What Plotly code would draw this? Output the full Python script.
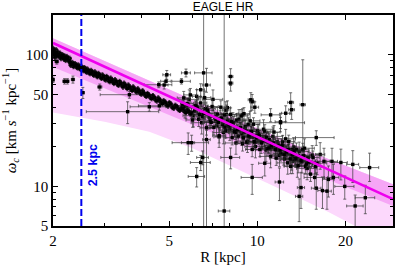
import math
import plotly.graph_objects as go

# ---------------- data ----------------
# dense inner ridge (R in kpc, omega_c in km/s/kpc)
R_ridge = [2.00,2.01,2.02,2.03,2.05,2.06,2.08,2.10,2.11,2.13,2.15,2.17,2.19,2.21,2.23,2.25,2.28,2.30,2.33,2.35,
           2.38,2.41,2.44,2.47,2.50,2.53,2.56,2.59,2.62,2.66,2.70,2.74,2.78,2.82,2.86,2.90,2.95,3.00,3.05,3.10,
           3.15,3.20,3.26,3.32,3.38,3.44,3.50,3.56,3.62,3.69,3.76,3.83,3.90,3.97,4.05,4.13,4.21,4.30,4.39,4.48,
           4.58,4.68,4.78,4.89,5.00,5.12,5.24,5.37,5.50,5.63,5.76,5.90]
W_ridge = [112,100,106,96,109,101,104,97,103,94,100,96,98,91,97,92,94,
           83.6,87.4,81.7,85.5,80.8,83.6,78.9,81.7,77,79.8,75,77.9,73.2,76,71.3,74.1,69.4,72.2,68.4,70.3,
           65.6,68.4,63.7,66.5,62.7,64.6,59.9,62.7,58.9,60.8,57,58.9,55.1,57,53.2,55.1,51.3,53.2,49.4,50.8,
           47.5,48.9,45.6,47,43.7,44.7,41.8,43.2,39.9,41.3,38.5,39.4,37.1,38,35.6]
R_ridge2 = [2.005,2.015,2.025,2.04,2.055,2.07,2.09,2.12,2.14,2.16,2.18,2.20,2.22,2.24,2.27,2.29,2.32,2.34,2.37,2.40,
            2.43,2.46,2.49,2.52,2.55,2.58,2.61,2.64,2.68,2.72,2.76,2.80,2.84,2.88,2.93,2.98,3.03,3.08,3.13,3.18,
            3.23,3.29,3.35,3.41,3.47,3.53,3.59,3.66,3.73,3.80,3.87,3.94,4.01,4.09,4.17,4.26,4.35,4.44,4.53,4.63,
            4.73,4.84,4.95,5.06,5.18,5.30,5.43,5.56,5.70,5.83]
W_ridge2 = [104,109,101,98,104,99,101,98,96,99,93,96,93,95,90,
            87.4,84.6,85.5,82.7,83.6,79.8,81.7,77.9,79.8,76,77.9,74.1,76,72.2,74.1,70.3,72.2,68.4,70.3,66.5,
            68.4,64.6,66.5,62.7,64.6,60.8,62.7,58.9,60.8,57,58.9,55.6,57,53.7,55.1,52.3,53.2,50.4,51.3,48.5,
            49.4,46.6,47.5,44.7,45.6,42.8,43.7,40.9,42.3,39.4,40.4,38,39,36.6,37.1]

# main cloud
R_cloud_a = [5.6,5.7,5.8,5.9,6.0,6.1,6.2,6.3,6.4,6.5,6.6,6.7,6.8,6.9,7.0,7.1,7.2,7.3,7.4,7.5,7.6,7.7,7.8,7.9,8.0,
             8.1,8.2,8.3,8.4,8.5,8.6,8.7,8.8,8.9,9.0,9.1,9.2,9.3,9.4,9.5,9.6,9.7,9.8,9.9,10.0,10.2,10.4,10.6,10.8,
             11.0,11.2,11.4,11.6,11.8,12.0,12.2,12.4,12.6,12.8,13.0,13.2,13.4,13.6,13.8,14.0,14.3,14.6,14.9,15.2,15.5,15.8]
W_cloud_a = [47.1,37.1,41.4,49.6,32,37.4,40.6,32.4,43.1,34,47.3,27.9,36,31.3,40.5,28.1,32.3,35.5,24.3,40,29.4,34.9,26.5,31.3,28.6,
             35.3,23.5,30.4,25.8,31.9,24.1,27.4,34.3,21.1,25.9,28.5,21.7,29.7,23.8,26.1,19.1,29.7,21.6,24.3,26.4,19.1,22.7,26.3,19.4,
             22.7,19.8,25.9,16.4,20.6,17.7,21.8,16.2,18.2,21.9,14.2,19,16.2,19.1,14.4,16.9,19,14.2,16.5,12.4,16.6,14.2]
R_cloud_b = [5.65,5.85,6.05,6.25,6.45,6.65,6.85,7.05,7.25,7.45,7.65,7.85,8.05,8.25,8.45,8.65,8.85,9.05,9.25,9.45,9.65,9.85,
             10.1,10.3,10.5,10.7,10.9,11.1,11.3,11.5,11.7,11.9,12.1,12.3,12.5,12.7,12.9,13.1,13.3,13.5,13.7,13.9,
             14.2,14.5,14.8,15.1,15.4,15.7,16.0]
W_cloud_b = [40.4,45.9,34.5,39.6,30.5,39,33.3,45.9,29.1,32.2,25.7,35.2,27.2,30.8,21.4,32.5,25,27.1,22.1,31.5,23.7,20.1,
             25.2,21.7,27.2,18.9,22,16.9,24,19.9,21.8,17.2,19.5,17.7,23,15.1,19,16.2,19.9,17,14.3,18.4,
             15.4,19.5,13.7,15.3,17.3,11.7,15]
R_cloud_c = [5.55,5.75,5.95,6.15,6.35,6.55,6.75,6.95,7.15,7.35,7.55,7.75,7.95,8.15,8.35,8.55,8.75,8.95,9.15,9.35,
             9.55,9.75,9.95,10.15,10.35,10.55,10.75,10.95,11.15,11.35,11.55,11.75,11.95,12.15,12.35,12.55,12.75,12.95,
             13.15,13.35,13.55,13.8,14.1,14.4,14.7,15.0]
W_cloud_c = [41.1,42.6,36.3,41.0,35.2,35.9,38.0,30.7,33.6,30.7,33.1,28.2,29.9,31.0,26.2,27.0,28.0,23.4,26.3,24.2,
             26.1,22.0,23.4,24.4,21.4,22.3,23.7,19.6,20.5,21.4,19.0,20.3,18.9,20.6,17.4,18.4,19.1,16.2,
             17.4,18.6,16.2,17.1,15.7,17.1,14.8,15.4]

# scattered points with individual error bars
R_out = [2.06,2.0,2.19,2.24,2.34,2.53,2.89,3.65,3.6,4.27,4.62,4.9,4.8,4.87,5.5,4.6,5.7,6.55,6.7,6.4,6.2,7.7,8.1,8.1,7.8,
         7.9,8.9,9.0,9.6,9.5,13.0,13.1,14.3,15.9,12.0,16.4,16.9,18.0,19.3,21.2,24.2,19.9,21.6,23.4,17.3,16.7,13.9,14.1,
         11.9,9.6,8.1,10.6,13.2,17.5,18.2,15.9,5.96,5.8,6.4,6.2,6.5,6.7,7.4,12.0,12.5,9.8,11.1]
W_out = [89,64.7,63,63,65,51.6,57,49.8,37,40.3,41,70.6,59,63,63,59.3,73,73,59,54.3,48.4,6.5,68.5,61,38,
         39.7,35,35.7,44,45.6,43.5,38.3,41.8,23.5,30.5,17.5,15.5,15.5,15.2,14.7,13.9,10.0,7.1,8.2,9.2,9.3,8.4,9.8,
         10.8,11.7,16.6,15,15.5,11.3,11.7,9.7,21.5,21.5,15.2,11.9,16.6,22.7,23.8,31,36,40,35]
ERR_R_out = [0.03,0.02,0.03,0.03,0.03,0.03,0.05,0.75,1.0,0.6,0.7,0.15,0.15,0.2,0.4,0.5,0.2,0.45,0.2,0.2,0.2,0.35,0.15,0.15,0.2,
             0.2,0.4,0.4,0.2,0.2,0.3,0.3,0.3,2.4,2.5,0.6,0.8,0.8,1.0,1.0,1.8,1.5,1.4,1.8,0.6,0.6,0.4,0.4,
             0.4,0.8,0.6,0.5,0.6,0.8,0.8,0.6,0.85,0.3,0.5,0.4,0.3,0.2,0.3,0.5,0.4,0.3,0.8]
ERR_W_up = [4,3,3,3,4,5,3,3,7,3,3,5.5,4,6,3,3,5,140,20,6,6,200,10,8,6,
            5,4,4,6,6,8,6,50,3,3,4,4,4,4,4,4,2,1.5,2,2.5,2.5,3,3,
            3,3,3,3,3,3,3,3,3,4,2,2,2,4,4,5,5,4,4]
ERR_W_down = [4,3,3,3,4,5,3,3,7,3,3,5.5,4,4,3,3,5,140,7,6,6,200,10,8,6,
              5,4,4,6,8,8,6,22,3,3,4,4,4,4,4,3,2,2.2,2,2.5,2.5,3,3,
              3,3,3,3,3,3,3,3,3,4,2,2,2,25,4,5,5,4,4]

# fit line and bands
FIT_R = [2.0, 29.1]
FIT_W = [123, 8.0]
INNER_UP_R = [2.0, 16.0, 29.1]
INNER_UP_W = [134, 17.5, 10.4]
INNER_LO_R = [2.0, 8.0, 29.1]
INNER_LO_W = [81, 22.6, 7.1]
OUTER_LO_R = [2.0, 3.0, 4.27, 6.0, 8.0, 12.0, 17.5, 21.6, 29.1]
OUTER_LO_W = [36.5, 31, 26, 19.5, 14.5, 9.5, 6.4, 5.0, 3.4]

CUT_R = 2.5
CUT_LABEL = "2.5 kpc"
X_TICKS = [2, 5, 10, 20]
X_MINOR = [3, 4, 6, 7, 8, 9]
Y_TICKS = [5, 10, 50, 100]
Y_MINOR = [6, 7, 8, 9, 20, 30, 40, 60, 70, 80, 90, 200]
X_RANGE = [2.0, 29.1]
Y_RANGE = [5.0, 201.0]

# ---------------- figure ----------------
fig = go.Figure()

# outer (light) band
fig.add_trace(go.Scatter(
    x=INNER_UP_R + OUTER_LO_R[::-1], y=INNER_UP_W + OUTER_LO_W[::-1],
    fill="toself", fillcolor="#FCD8FC", line=dict(width=0), mode="lines",
    hoverinfo="skip", showlegend=False))
# inner (darker) band
fig.add_trace(go.Scatter(
    x=INNER_UP_R + INNER_LO_R[::-1], y=INNER_UP_W + INNER_LO_W[::-1],
    fill="toself", fillcolor="#F6A6F6", line=dict(width=0), mode="lines",
    hoverinfo="skip", showlegend=False))

ebar_col = "rgba(60,60,60,0.8)"
mk = dict(symbol="square", size=3.4, color="black")

fig.add_trace(go.Scatter(
    x=R_out, y=W_out, mode="markers", marker=mk, showlegend=False,
    error_x=dict(type="data", array=ERR_R_out, color=ebar_col, thickness=0.9, width=1.5),
    error_y=dict(type="data", array=ERR_W_up, arrayminus=ERR_W_down, symmetric=False,
                 color=ebar_col, thickness=0.9, width=1.5)))
fig.add_trace(go.Scatter(
    x=R_cloud_b, y=W_cloud_b, mode="markers", marker=mk, showlegend=False,
    error_x=dict(type="percent", value=8, color=ebar_col, thickness=0.9, width=1.5),
    error_y=dict(type="percent", value=18, color=ebar_col, thickness=0.9, width=1.5)))
fig.add_trace(go.Scatter(
    x=R_cloud_a, y=W_cloud_a, mode="markers", marker=mk, showlegend=False,
    error_x=dict(type="percent", value=5, color=ebar_col, thickness=0.9, width=1.5),
    error_y=dict(type="percent", value=12, color=ebar_col, thickness=0.9, width=1.5)))
fig.add_trace(go.Scatter(
    x=R_cloud_c, y=W_cloud_c, mode="markers", marker=mk, showlegend=False,
    error_x=dict(type="percent", value=5, color="rgba(30,30,30,0.85)", thickness=0.9, width=1.5),
    error_y=dict(type="percent", value=9, color="rgba(30,30,30,0.85)", thickness=0.9, width=1.5)))
for rr, ww in ((R_ridge, W_ridge), (R_ridge2, W_ridge2)):
    fig.add_trace(go.Scatter(
        x=rr, y=ww, mode="markers", marker=mk, showlegend=False,
        error_x=dict(type="percent", value=1.5, color="rgba(20,20,20,0.9)", thickness=0.9, width=1),
        error_y=dict(type="percent", value=4, color="rgba(20,20,20,0.9)", thickness=0.9, width=1)))

# fit line
fig.add_trace(go.Scatter(x=FIT_R, y=FIT_W, mode="lines",
                         line=dict(color="#EE00EE", width=2.6), showlegend=False, hoverinfo="skip"))

# cut line
fig.add_shape(type="line", xref="x", yref="paper", x0=CUT_R, x1=CUT_R, y0=0, y1=1,
              line=dict(color="#0000EE", width=2, dash="7px,3px"), layer="above")
fig.add_annotation(x=math.log10(CUT_R), xref="x", y=0.18, yref="paper", text="<b>%s</b>" % CUT_LABEL,
                   textangle=-90, showarrow=False, xshift=12,
                   font=dict(family="Liberation Sans", size=12.5, color="#0000EE"))

serif = dict(family="Liberation Serif", size=15, color="black")
axis_common = dict(type="log", showgrid=False, zeroline=False, showline=True, mirror="allticks",
                   linecolor="black", linewidth=1.5, ticks="inside", ticklen=5, tickwidth=1,
                   tickcolor="black", tickfont=serif)

fig.update_xaxes(**axis_common, range=[math.log10(X_RANGE[0]), math.log10(X_RANGE[1])],
                 tickmode="array", tickvals=X_TICKS, ticktext=[str(v) for v in X_TICKS],
                 minor=dict(tickmode="array", tickvals=X_MINOR, ticks="inside", ticklen=3, tickcolor="black"),
                 title=dict(text="R [kpc]", font=serif, standoff=4))
fig.update_yaxes(**axis_common, range=[math.log10(Y_RANGE[0]), math.log10(Y_RANGE[1])],
                 tickmode="array", tickvals=Y_TICKS, ticktext=[str(v) for v in Y_TICKS],
                 minor=dict(tickmode="array", tickvals=Y_MINOR, ticks="inside", ticklen=3, tickcolor="black"),
                 title=dict(text="<i>ω<sub>c</sub></i> [km <i>s</i><sup>−1</sup> kpc<sup>−1</sup>]",
                            font=serif, standoff=6))

fig.update_layout(
    width=399, height=268,
    margin=dict(l=53, r=4, t=15, b=42),
    paper_bgcolor="white", plot_bgcolor="white",
    title=dict(text="EAGLE HR", x=0.5, xref="paper", xanchor="center",
               y=1 - 7 / 268, yanchor="middle",
               font=dict(family="Liberation Sans", size=12, color="black")),
    showlegend=False,
)

fig.write_html("out.html", config={"displayModeBar": False},
               post_script="document.body.style.margin='0px';")
